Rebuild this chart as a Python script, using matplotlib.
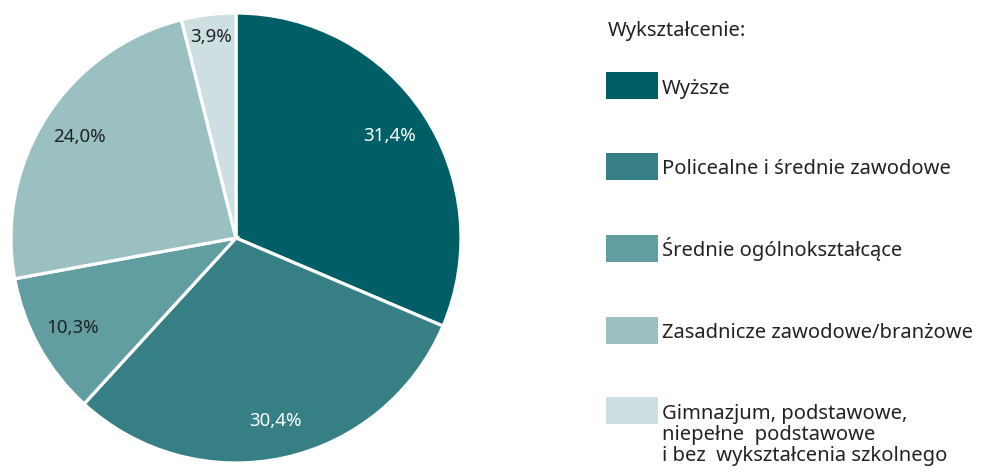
import matplotlib
matplotlib.use("Agg")
import matplotlib.pyplot as plt
from matplotlib.patches import Rectangle
import numpy as np

plt.rcParams['font.family'] = ['Noto Sans', 'DejaVu Sans']

# dane
kategorie = ['Wyższe', 'Policealne i średnie zawodowe', 'Średnie ogólnokształcące',
             'Zasadnicze zawodowe/branżowe',
             'Gimnazjum, podstawowe,\nniepełne  podstawowe\ni bez  wykształcenia szkolnego']
udzialy = [31.4, 30.4, 10.3, 24.0, 3.9]
kolory = ['#005f66', '#367f84', '#619ea2', '#9ac0c2', '#cddfe0']
kolory_tekstu = ['white', 'white', '#222222', '#222222', '#222222']

W, H = 984, 474
fig = plt.figure(figsize=(W / 100, H / 100), dpi=100)

# kolo - srodek ok. (236,238) px, promien 225 px
cx, cy, r = 236, 238, 225
ax = fig.add_axes([(cx - r) / W, 1 - (cy + r) / H, 2 * r / W, 2 * r / H])
wedges, _ = ax.pie(udzialy, colors=kolory, startangle=90, counterclock=False,
                   wedgeprops=dict(edgecolor='white', linewidth=2.3))
ax.set_xlim(-1, 1)
ax.set_ylim(-1, 1)
ax.set_aspect('auto')
ax.axis('off')

# etykiety procentowe
odl = [0.82, 0.83, 0.83, 0.83, 0.90]
for i, (v, w) in enumerate(zip(udzialy, wedges)):
    mid = np.deg2rad((w.theta1 + w.theta2) / 2)
    ax.text(odl[i] * np.cos(mid), odl[i] * np.sin(mid), f"{v:.1f}%".replace('.', ','),
            ha='center', va='center', fontsize=13.5, color=kolory_tekstu[i])

# legenda rysowana recznie
fig.text(608 / W, 1 - 36 / H, 'Wykształcenie:', fontsize=14.5, color='#222222',
         ha='left', va='baseline')
ys = [86, 166, 248, 330, 410]
for lab, kol, y in zip(kategorie, kolory, ys):
    fig.patches.append(Rectangle((606 / W, 1 - (y + 13.5) / H), 52 / W, 27 / H,
                                 transform=fig.transFigure, facecolor=kol,
                                 edgecolor='none'))
    n = lab.count('\n')
    # baseline ostatniej linii
    fig.text(662 / W, 1 - (y + 8 + n * 21.5) / H, lab, fontsize=14.5, color='#222222',
             ha='left', va='baseline', linespacing=1.07)

fig.savefig('out.png', dpi=100)
